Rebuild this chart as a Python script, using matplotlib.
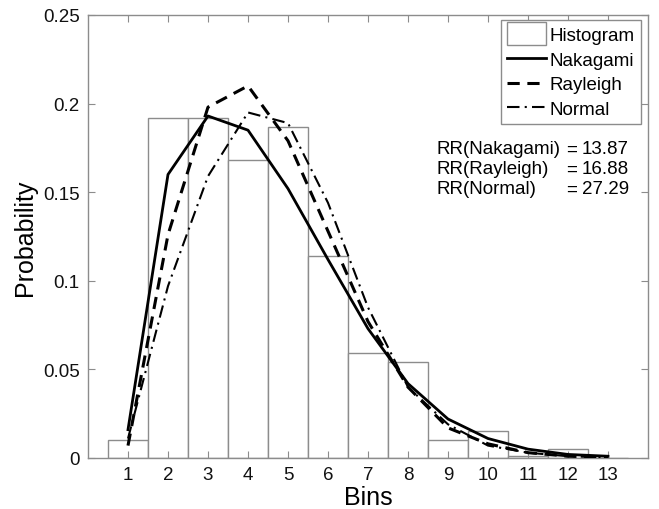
import matplotlib
matplotlib.use("Agg")
import matplotlib.pyplot as plt
from matplotlib.patches import Patch, Rectangle
from matplotlib.legend_handler import HandlerPatch

bins = [1, 2, 3, 4, 5, 6, 7, 8, 9, 10, 11, 12, 13]
hist = [0.010, 0.192, 0.192, 0.168, 0.187, 0.114, 0.059, 0.054, 0.010, 0.015, 0.001, 0.005, 0.0]
nakagami = [0.016, 0.160, 0.193, 0.185, 0.152, 0.112, 0.073, 0.042, 0.022, 0.011, 0.005, 0.002, 0.001]
rayleigh = [0.007, 0.126, 0.198, 0.210, 0.179, 0.128, 0.077, 0.040, 0.017, 0.008, 0.003, 0.001, 0.0005]
normal = [0.011, 0.097, 0.159, 0.195, 0.189, 0.144, 0.085, 0.040, 0.019, 0.007, 0.003, 0.001, 0.0003]
yticks = [0, 0.05, 0.1, 0.15, 0.2, 0.25]
ytick_labels = ["0", "0.05", "0.1", "0.15", "0.2", "0.25"]
rr_names = ["RR(Nakagami)", "RR(Rayleigh)", "RR(Normal)"]
rr_values = ["13.87", "16.88", "27.29"]

plt.rcParams['font.family'] = ['Liberation Sans', 'DejaVu Sans']
FS = 13.5

fig = plt.figure(figsize=(6.59, 5.10), dpi=100)
ax = fig.add_axes([88/659, 1 - 459/510, 560/659, 443/510])

gray = '#8c8c8c'
ax.bar(bins, hist, width=1.0, facecolor='white', edgecolor=gray, linewidth=1.0, zorder=1)
ax.plot(bins, nakagami, color='black', linestyle='-', linewidth=2.0, zorder=3)
ax.plot(bins, rayleigh, color='black', linestyle=(0, (4, 2.5)), linewidth=2.2, zorder=3)
ax.plot(bins, normal, color='black', linestyle=(0, (6, 2.5, 1, 2.5)), linewidth=1.5, zorder=3)

ax.set_xlim(0, 14)
ax.set_ylim(0, 0.25)
ax.set_xticks(bins)
ax.set_xticklabels([str(b) for b in bins])
ax.set_yticks(yticks)
ax.set_yticklabels(ytick_labels)
ax.tick_params(direction='in', top=True, right=True, length=5, width=0.8, color=gray,
               labelsize=FS, labelcolor='#111111', pad=6)
for s in ax.spines.values():
    s.set_color(gray)
    s.set_linewidth(1.0)

ax.set_xlabel('Bins', fontsize=18, labelpad=1)
ax.set_ylabel('Probability', fontsize=18, labelpad=4)


def tall_rect(legend, orig_handle, xdescent, ydescent, width, height, fontsize):
    return Rectangle((-xdescent, -ydescent - height * 0.4), width, height * 1.8)


handles = [Patch(facecolor='white', edgecolor=gray, linewidth=1.0),
           plt.Line2D([], [], color='black', linestyle='-', linewidth=2.0),
           plt.Line2D([], [], color='black', linestyle=(0, (4, 2.5)), linewidth=2.2),
           plt.Line2D([], [], color='black', linestyle=(0, (6, 2.5, 1, 2.5)), linewidth=1.5)]
leg = ax.legend(handles, ['Histogram', 'Nakagami', 'Rayleigh', 'Normal'],
                loc='upper right', bbox_to_anchor=(0.9875, 0.988), fontsize=FS,
                fancybox=False, framealpha=1, edgecolor=gray, handlelength=2.1,
                handletextpad=0.15, borderpad=0.35, labelspacing=0.4, borderaxespad=0,
                handler_map={Patch: HandlerPatch(patch_func=tall_rect)})
leg.get_frame().set_linewidth(1.0)

for i, (n, v) in enumerate(zip(rr_names, rr_values)):
    ypx = 150 + i * 20
    fig.text(436/659, 1 - ypx/510, n, fontsize=FS, va='center', ha='left')
    fig.text(566/659, 1 - ypx/510, '=', fontsize=FS, va='center', ha='left')
    fig.text(629/659, 1 - ypx/510, v, fontsize=FS, va='center', ha='right')

fig.savefig('out.png', dpi=100)
